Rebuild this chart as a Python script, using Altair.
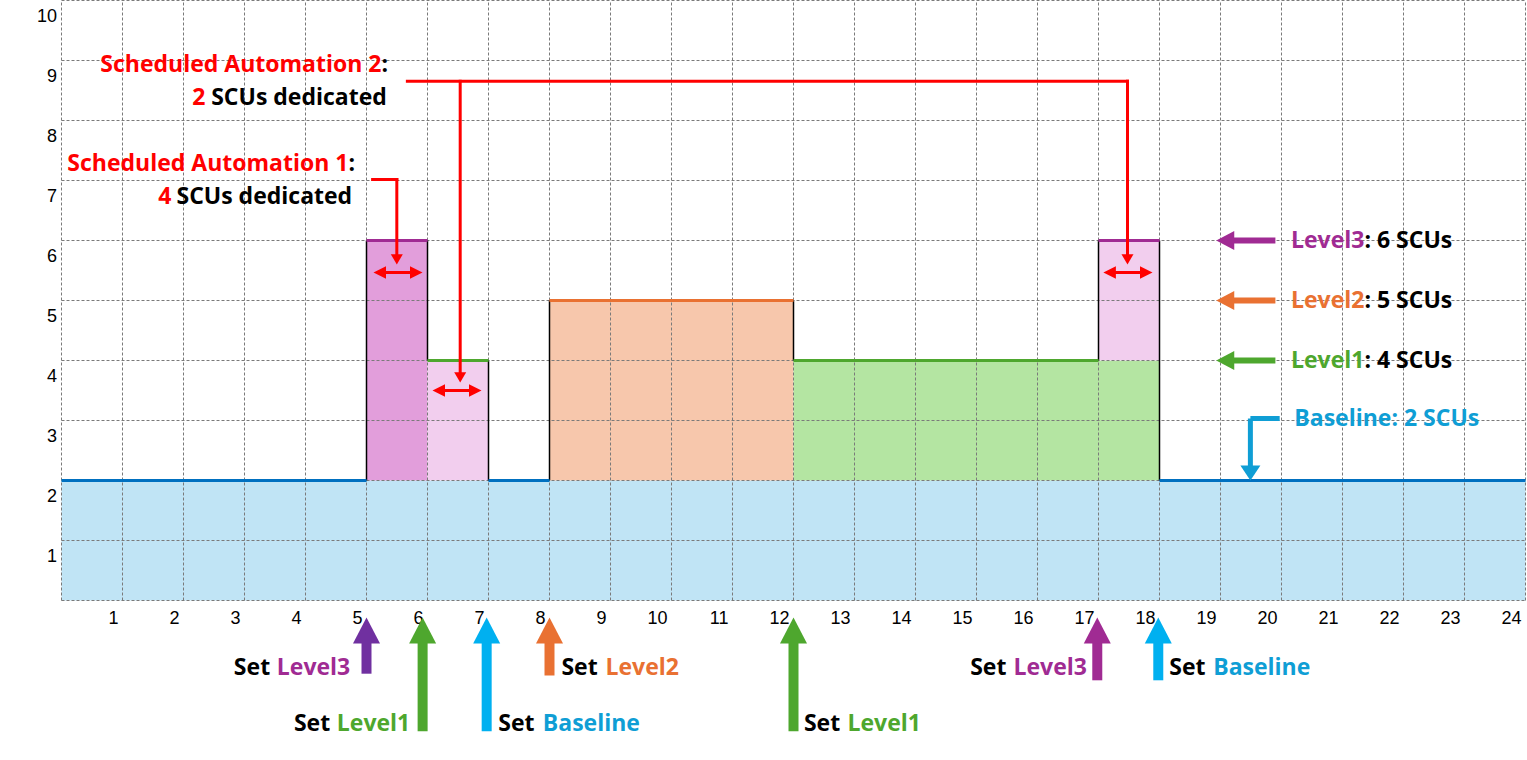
import altair as alt
import pandas as pd

# ---------------- data ----------------
x_ticks = list(range(1, 25))          # hour labels
y_ticks = list(range(1, 11))          # SCU labels
x_grid = list(range(0, 25))
y_grid = list(range(0, 11))

BLUE_LINE = "#0070C0"
PURPLE = "#A02B93"
DARK_PURPLE = "#7030A0"
GREEN = "#4EA72E"
ORANGE = "#E97132"
SKY = "#00B0F0"
BASE_TXT = "#0F9ED5"
RED = "#FF0000"

# capacity blocks (hours, SCUs)
blk_start = [0, 5, 6, 8, 12, 17]
blk_end = [24, 6, 7, 12, 18, 18]
blk_low = [0, 2, 2, 2, 2, 4]
blk_high = [2, 6, 4, 5, 4, 6]
blk_fill = ["#C0E4F5", "#E29EDB", "#F2CEEE", "#F7C7AC", "#B4E5A2", "#F2CEEE"]

# coloured top edges of the blocks
top_start = [0, 7, 18, 5, 6, 8, 12, 17]
top_end = [5, 8, 24, 6, 7, 12, 17, 18]
top_val = [2, 2, 2, 6, 4, 5, 4, 6]
top_col = [BLUE_LINE, BLUE_LINE, BLUE_LINE, PURPLE, GREEN, ORANGE, GREEN, PURPLE]

# black vertical edges
edge_x = [5, 6, 7, 8, 12, 17, 18]
edge_lo = [2, 4, 2, 2, 4, 4, 2]
edge_hi = [6, 6, 4, 5, 5, 6, 6]

# red connector segments (x1, y1, x2, y2)
red_x1 = [5.10, 5.497, 5.67, 6.536, 17.475, 5.20, 6.17, 17.17]
red_y1 = [7.017, 7.017, 8.655, 8.655, 8.655, 5.467, 3.50, 5.467]
red_x2 = [5.497, 5.497, 17.475, 6.536, 17.475, 5.83, 6.80, 17.80]
red_y2 = [7.017, 5.72, 8.655, 3.75, 5.72, 5.467, 3.50, 5.467]

# arrow heads: x, y (tip), kind, colour
P_DOWN_RED = "M0,0 L-1,-1.7 L1,-1.7 Z"
P_LEFT_RED = "M0,0 L2,-1 L2,1 Z"
P_RIGHT_RED = "M0,0 L-2,-1 L-2,1 Z"
P_UP_BLOCK = "M0,0 L1,1.93 L-1,1.93 Z"
P_LEFT_BLOCK = "M0,0 L1.9,-1 L1.9,1 Z"
P_DOWN_BASE = "M0,0 L-1,-1.5 L1,-1.5 Z"

head_x = [5.497, 6.536, 17.475, 5.115, 6.082, 17.08, 5.918, 6.885, 17.885,
          5.0, 5.92, 6.97, 8.0, 12.0, 16.98, 17.98,
          18.93, 18.93, 18.93, 19.49]
head_y = [5.6, 3.633, 5.6, 5.467, 3.5, 5.467, 5.467, 3.5, 5.467,
          -0.283, -0.283, -0.283, -0.283, -0.283, -0.283, -0.283,
          6, 5, 4, 2.0]
head_shape = [P_DOWN_RED] * 3 + [P_LEFT_RED] * 3 + [P_RIGHT_RED] * 3 + [P_UP_BLOCK] * 7 + \
             [P_LEFT_BLOCK] * 3 + [P_DOWN_BASE]
head_size = [144] * 3 + [156] * 6 + [729] * 7 + [361] * 3 + [400]
head_col = [RED] * 9 + [DARK_PURPLE, GREEN, SKY, ORANGE, GREEN, PURPLE, SKY] + \
           [PURPLE, ORANGE, GREEN, BASE_TXT]

# block arrow shafts (x1, y1, x2, y2, width)
shaft_x1 = [5.0, 5.92, 6.97, 8.0, 12.0, 16.98, 17.98, 19.90, 19.90, 19.90, 19.97, 19.49]
shaft_y1 = [-1.22, -2.18, -2.18, -1.25, -2.18, -1.33, -1.33, 6, 5, 4, 3.033, 3.033]
shaft_x2 = [5.0, 5.92, 6.97, 8.0, 12.0, 16.98, 17.98, 19.15, 19.15, 19.15, 19.49, 19.49]
shaft_y2 = [-0.60, -0.60, -0.60, -0.60, -0.60, -0.60, -0.60, 6, 5, 4, 3.033, 2.2]
shaft_w = [10, 10, 10, 10, 10, 10, 10, 6, 6, 6, 5, 5]
shaft_col = [DARK_PURPLE, GREEN, SKY, ORANGE, GREEN, PURPLE, SKY, PURPLE, ORANGE, GREEN,
             BASE_TXT, BASE_TXT]

# texts anchored on their right edge
tr_x = [5.246, 2.36, 4.705, 1.803, 21.36, 21.36, 21.36,
        3.42, 4.405, 7.754, 8.79, 12.765, 15.49, 18.754]
tr_y = [8.917, 8.367, 7.283, 6.717, 6, 5, 4,
        -1.133, -2.05, -2.05, -1.133, -2.05, -1.133, -1.133]
tr_text = ["Scheduled Automation 2", "2", "Scheduled Automation 1", "4",
           "Level3", "Level2", "Level1",
           "Set", "Set", "Set", "Set", "Set", "Set", "Set"]
tr_col = [RED, RED, RED, RED, PURPLE, ORANGE, GREEN] + ["#000000"] * 7

# texts anchored on their left edge
tl_x = [5.246, 2.454, 4.705, 1.885, 21.36, 21.36, 21.36, 20.21,
        3.53, 4.513, 7.89, 8.918, 12.885, 15.607, 18.88]
tl_y = [8.917, 8.367, 7.283, 6.717, 6, 5, 4, 3.03,
        -1.133, -2.05, -2.05, -1.133, -2.05, -1.133, -1.133]
tl_text = [":", "SCUs dedicated", ":", "SCUs dedicated",
           ": 6 SCUs", ": 5 SCUs", ": 4 SCUs", "Baseline: 2 SCUs",
           "Level3", "Level1", "Baseline", "Level2", "Level1", "Level3", "Baseline"]
tl_col = ["#000000"] * 7 + [BASE_TXT] + [PURPLE, GREEN, BASE_TXT, ORANGE, GREEN, PURPLE, BASE_TXT]

# ---------------- tables ----------------
blocks = pd.DataFrame({"x": blk_start, "x2": blk_end, "y": blk_low, "y2": blk_high, "c": blk_fill})
tops = pd.DataFrame({"x": top_start, "x2": top_end, "y": top_val, "c": top_col})
edges = pd.DataFrame({"x": edge_x, "y": edge_lo, "y2": edge_hi})
vgrid = pd.DataFrame({"x": x_grid, "y": [0] * len(x_grid), "y2": [10] * len(x_grid)})
hgrid = pd.DataFrame({"y": y_grid, "x": [0] * len(y_grid), "x2": [24] * len(y_grid)})
reds = pd.DataFrame({"x": red_x1, "y": red_y1, "x2": red_x2, "y2": red_y2})
heads = pd.DataFrame({"x": head_x, "y": head_y, "s": head_shape, "z": head_size, "c": head_col})
shafts = pd.DataFrame({"x": shaft_x1, "y": shaft_y1, "x2": shaft_x2, "y2": shaft_y2,
                       "w": shaft_w, "c": shaft_col})
txt_r = pd.DataFrame({"x": tr_x, "y": tr_y, "t": tr_text, "c": tr_col})
txt_l = pd.DataFrame({"x": tl_x, "y": tl_y, "t": tl_text, "c": tl_col})

xs = alt.Scale(domain=[0, 24], nice=False, zero=False)
ys = alt.Scale(domain=[0, 10], nice=False, zero=False)

x_axis = alt.Axis(values=x_ticks, grid=False, domain=False, ticks=False, labelAlign="right",
                  labelOffset=-4.5, labelPadding=9, labelFont="Liberation Sans", labelFontSize=18,
                  labelColor="#000000", title=None)
y_axis = alt.Axis(values=y_ticks, grid=False, domain=False, ticks=False, labelBaseline="middle",
                  labelOffset=16, labelPadding=5, labelFont="Liberation Sans", labelFontSize=18,
                  labelColor="#000000", title=None)


def X(f="x:Q"):
    return alt.X(f, scale=xs, axis=x_axis, title=None)


def Y(f="y:Q"):
    return alt.Y(f, scale=ys, axis=y_axis, title=None)


fills = alt.Chart(blocks).mark_rect(strokeWidth=0).encode(
    x=X(), x2="x2:Q", y=Y(), y2="y2:Q",
    fill=alt.Fill("c:N", scale=None))

grid_style = dict(color="#7A7A7A", strokeWidth=1, strokeDash=[3, 2])
gv = alt.Chart(vgrid).mark_rule(**grid_style).encode(x=X(), y=Y(), y2="y2:Q")
gh = alt.Chart(hgrid).mark_rule(**grid_style).encode(x=X(), x2="x2:Q", y=Y())

edge_l = alt.Chart(edges).mark_rule(color="#000000", strokeWidth=1.5).encode(
    x=X(), y=Y(), y2="y2:Q")
top_l = alt.Chart(tops).mark_rule(strokeWidth=3).encode(
    x=X(), x2="x2:Q", y=Y(), color=alt.Color("c:N", scale=None))

red_l = alt.Chart(reds).mark_rule(color=RED, strokeWidth=3, strokeCap="square").encode(
    x=X(), x2="x2:Q", y=Y(), y2="y2:Q")

shaft_l = alt.Chart(shafts).mark_rule(strokeCap="butt").encode(
    x=X(), x2="x2:Q", y=Y(), y2="y2:Q",
    strokeWidth=alt.StrokeWidth("w:Q", scale=None),
    color=alt.Color("c:N", scale=None))

head_l = alt.Chart(heads).mark_point(filled=True, opacity=1, strokeWidth=0).encode(
    x=X(), y=Y(),
    shape=alt.Shape("s:N", scale=None), size=alt.Size("z:Q", scale=None),
    color=alt.Color("c:N", scale=None))

tfont = dict(font="Open Sans", fontWeight="bold", fontSize=23, baseline="middle")
text_r = alt.Chart(txt_r).mark_text(align="right", **tfont).encode(
    x=X(), y=Y(), text="t:N", color=alt.Color("c:N", scale=None))
text_l = alt.Chart(txt_l).mark_text(align="left", **tfont).encode(
    x=X(), y=Y(), text="t:N", color=alt.Color("c:N", scale=None))

chart = alt.layer(fills, gv, gh, edge_l, top_l, red_l, shaft_l, head_l, text_r, text_l).properties(
    width=1464, height=600,
    padding={"left": 61.5, "top": 0.5, "right": 1.5, "bottom": 159.5},
    autosize=alt.AutoSizeParams(type="none"),
    background="#FFFFFF",
).configure_view(stroke=None)

chart.save("out.html", embed_options={"renderer": "svg", "actions": False})
